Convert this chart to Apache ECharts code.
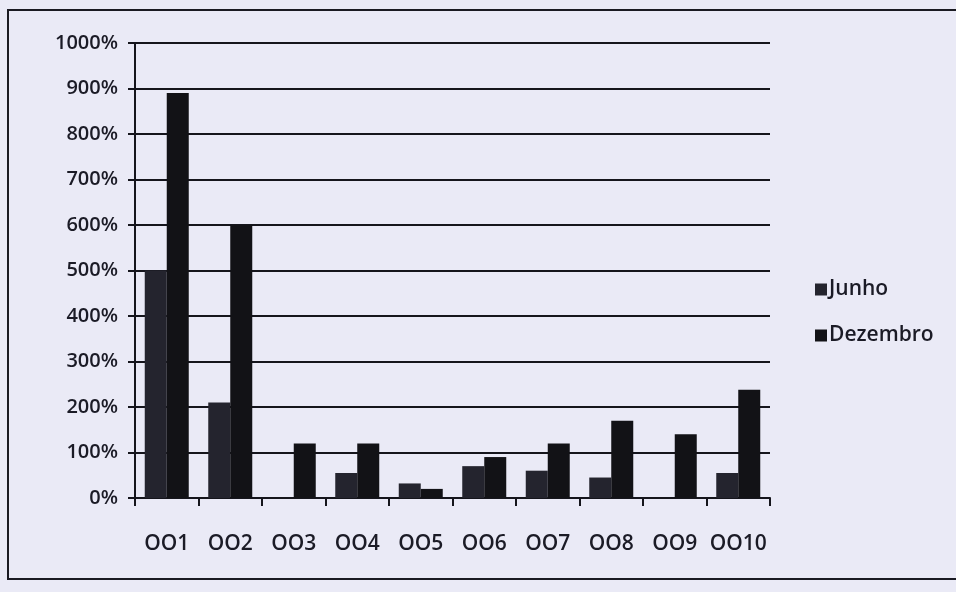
<!DOCTYPE html>
<html><head><meta charset="utf-8">
<script src="https://cdn.jsdelivr.net/npm/echarts@6/dist/echarts.min.js"></script>
<style>html,body{margin:0;padding:0;background:#eaeaf6;}#c{width:956px;height:592px;}</style>
</head><body><div id="c"></div>
<script>
const categories = ['OO1','OO2','OO3','OO4','OO5','OO6','OO7','OO8','OO9','OO10'];
const junho = [500, 210, 0, 55, 32, 70, 60, 45, 0, 55];
const dezembro = [890, 600, 120, 120, 20, 90, 120, 170, 140, 238];
const seriesNames = ['Junho', 'Dezembro'];

const chart = echarts.init(document.getElementById('c'), null, {renderer:'canvas'});
const font = '"Open Sans", Lato, sans-serif';
chart.setOption({
  backgroundColor: '#eaeaf6',
  animation: false,
  graphic: [{
    type: 'rect', shape: {x: 8, y: 10, width: 960, height: 569},
    style: {fill: 'none', stroke: '#1a1a22', lineWidth: 2}
  }],
  grid: {left: 135, top: 43, right: 186, bottom: 94},
  legend: {
    orient: 'vertical', left: 810, top: 274, itemGap: 25,
    itemWidth: 12, itemHeight: 12, icon: 'rect',
    textStyle: {fontFamily: font, fontSize: 21, fontWeight: 600, color: '#1b1b26', padding: [0,0,0,-3]},
    data: seriesNames
  },
  xAxis: {
    type: 'category', data: categories,
    axisLine: {lineStyle: {color: '#15151c', width: 2}},
    axisTick: {show: true, length: 8, lineStyle: {color: '#15151c', width: 2}},
    axisLabel: {interval: 0, fontFamily: font, fontSize: 21, fontWeight: 600, color: '#1b1b26', margin: 36}
  },
  yAxis: {
    type: 'value', min: 0, max: 1000, interval: 100,
    axisLine: {show: true, lineStyle: {color: '#15151c', width: 2}},
    axisTick: {show: true, length: 7, lineStyle: {color: '#15151c', width: 2}},
    axisLabel: {formatter: v => v + '%', fontFamily: font, fontSize: 20, fontWeight: 600, color: '#1b1b26', margin: 17},
    splitLine: {lineStyle: {color: '#15151c', width: 2}}
  },
  series: [
    {name: seriesNames[0], type: 'bar', data: junho, barWidth: 22, barGap: '0%',
     itemStyle: {color: '#24242e'}},
    {name: seriesNames[1], type: 'bar', data: dezembro, barWidth: 22,
     itemStyle: {color: '#121216'}}
  ]
});
</script></body></html>
